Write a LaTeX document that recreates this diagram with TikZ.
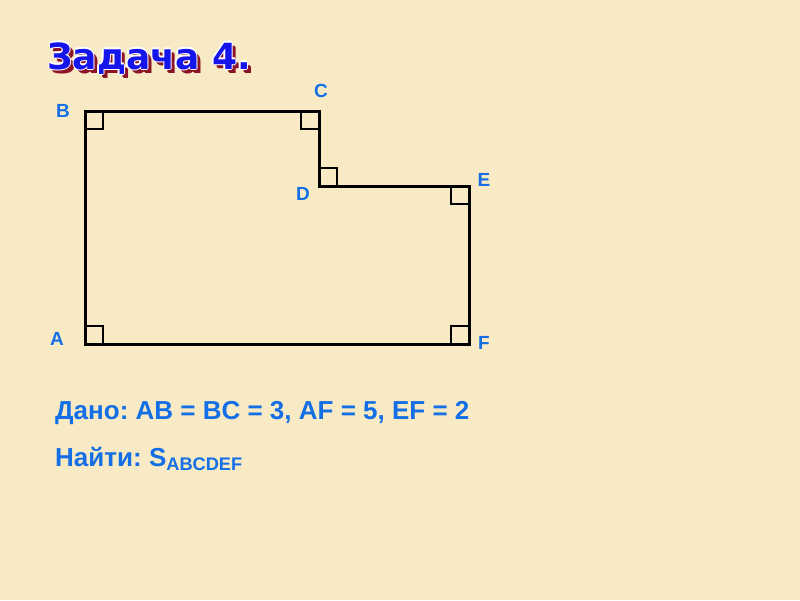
\documentclass[tikz,border=0pt]{standalone}
\usepackage{fontspec}
\setmainfont{Liberation Sans}
\newfontfamily\titlefont{DejaVu Sans}
\frenchspacing
\begin{document}
\begin{tikzpicture}[x=1pt,y=-1pt,
  lbl/.style={text=lblue,font=\bfseries\fontsize{19}{19}\selectfont,inner sep=0pt},
  txt/.style={text=lblue,font=\bfseries\fontsize{26}{26}\selectfont,inner sep=0pt,anchor=base west},
  ttl/.style={anchor=base west,inner sep=0pt,font=\titlefont\bfseries\fontsize{36}{36}\selectfont},
  fig/.style={line width=3pt,line join=miter},
  rmark/.style={line width=1.5pt}]
\definecolor{lblue}{RGB}{20,110,230}
\definecolor{bg}{RGB}{247,234,196}
\definecolor{tblue}{RGB}{20,20,235}
\definecolor{tred}{RGB}{140,20,40}
\fill[bg] (0,0) rectangle (800,600);
\useasboundingbox (0,0) rectangle (800,600);
% title
\foreach \dx/\dy in {3/3,4/4} \node[ttl,text=tred] at (47+\dx,69+\dy) {Задача 4.};
\foreach \dx/\dy in {-1.2/0,1.2/0,0/-1.2,0/1.2} \node[ttl,text=white] at (47+\dx,69+\dy) {Задача 4.};
\node[ttl,text=tblue] (title) at (47,69) {Задача 4.};
% figure
\coordinate (A) at (85,344); \coordinate (B) at (85,111); \coordinate (C) at (319,111);
\coordinate (D) at (319,186); \coordinate (E) at (469,186); \coordinate (F) at (469,344);
\draw[fig] (A) -- (B) -- (C) -- (D) -- (E) -- (F) -- cycle;
\draw[rmark] (85,129) -- (103,129) -- (103,111);
\draw[rmark] (301,111) -- (301,129) -- (319,129);
\draw[rmark] (319,168) -- (337,168) -- (337,186);
\draw[rmark] (451,186) -- (451,204) -- (469,204);
\draw[rmark] (85,326) -- (103,326) -- (103,344);
\draw[rmark] (469,326) -- (451,326) -- (451,344);
\node[lbl] (lA) at (57,339) {A};
\node[lbl] (lB) at (63,111) {B};
\node[lbl] (lC) at (321,91) {C};
\node[lbl] (lD) at (303,194) {D};
\node[lbl] (lE) at (484,180) {E};
\node[lbl] (lF) at (484,343) {F};
\node[txt] (given) at (55,419) {Дано: AB = BC = 3, AF = 5, EF = 2};
\node[txt] (find) at (55,466) {Найти: S\textsubscript{ABCDEF}};
\end{tikzpicture}
\end{document}
